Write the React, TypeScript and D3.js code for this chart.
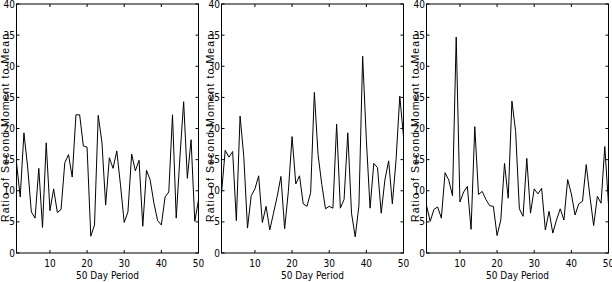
import React, { useEffect, useRef } from "react";
import * as d3 from "d3";

const days = d3.range(1, 51);

const series1 = [
  14.5, 9.0, 19.3, 13.8, 6.6, 5.6, 13.6, 4.1, 17.7, 6.8,
  10.3, 6.5, 7.0, 14.5, 15.8, 12.2, 22.2, 22.2, 17.2, 17.0,
  2.7, 4.5, 22.1, 17.8, 7.7, 15.3, 13.6, 16.4, 10.9, 4.9,
  6.6, 15.9, 13.2, 14.9, 4.3, 13.3, 11.7, 8.0, 5.2, 4.5,
  9.0, 9.8, 22.2, 5.6, 15.4, 24.3, 12.0, 18.2, 5.1, 8.5,
];

const series2 = [
  9.6, 16.5, 15.4, 16.3, 5.2, 22.0, 15.5, 4.0, 9.2, 10.3,
  12.4, 4.9, 7.5, 3.7, 6.4, 9.1, 12.3, 3.9, 9.9, 18.7,
  11.1, 12.4, 7.9, 7.5, 9.7, 25.8, 15.8, 11.0, 7.1, 7.5,
  7.2, 20.7, 7.2, 8.6, 19.3, 6.4, 2.6, 7.6, 31.6, 18.2,
  7.2, 14.4, 13.7, 6.4, 11.8, 14.8, 7.9, 15.0, 25.2, 18.7,
];

const series3 = [
  7.6, 5.1, 7.0, 7.4, 5.6, 12.9, 11.7, 9.2, 34.7, 8.2,
  9.8, 10.7, 3.8, 20.3, 9.4, 9.9, 8.6, 7.6, 7.5, 2.8,
  5.3, 14.4, 8.8, 24.4, 19.5, 7.1, 5.9, 15.2, 6.4, 10.3,
  9.5, 10.4, 3.7, 6.7, 3.2, 5.3, 7.1, 5.3, 11.8, 9.5,
  6.1, 7.9, 8.3, 14.2, 9.1, 4.4, 9.1, 8.0, 17.1, 7.8,
];

const xTicks = [10, 20, 30, 40, 50];
const yTicks = [0, 5, 10, 15, 20, 25, 30, 35, 40];

const panelLefts = [16.5, 221.5, 426.5];
const allSeries = [series1, series2, series3];

const W = 612;
const H = 282;
const plotW = 182;
const top = 4;
const bottom = 253;
const tickFont = "'Liberation Sans Narrow', 'DejaVu Sans Condensed', sans-serif";
const labelFont = "'Liberation Sans', Arial, sans-serif";

const App = () => {
  const ref = useRef<SVGSVGElement>(null);

  useEffect(() => {
    const svg = d3.select(ref.current);
    svg.selectAll("*").remove();

    allSeries.forEach((values, k) => {
      const left = panelLefts[k];
      const x = d3.scaleLinear().domain([1, 50]).range([left, left + plotW]);
      const y = d3.scaleLinear().domain([0, 40]).range([bottom, top]);
      const g = svg.append("g");

      // box
      g.append("rect")
        .attr("x", left)
        .attr("y", top)
        .attr("width", plotW)
        .attr("height", bottom - top)
        .attr("fill", "none")
        .attr("stroke", "#000")
        .attr("stroke-width", 1);

      // inward ticks on all four sides
      const tl = 3;
      g.selectAll(".yt")
        .data(yTicks)
        .join("path")
        .attr("d", (d) => `M${left},${y(d)}h${tl}M${left + plotW},${y(d)}h${-tl}`)
        .attr("stroke", "#000");
      g.selectAll(".xt")
        .data(xTicks)
        .join("path")
        .attr("d", (d) => `M${x(d)},${bottom}v${-tl}M${x(d)},${top}v${tl}`)
        .attr("stroke", "#000");

      // tick labels
      g.selectAll(".yl")
        .data(yTicks)
        .join("text")
        .attr("x", left - 1.5)
        .attr("y", (d) => y(d) + 3.5)
        .attr("text-anchor", "end")
        .attr("font-family", tickFont)
        .attr("font-size", 10)
        .text((d) => d);
      g.selectAll(".xl")
        .data(xTicks)
        .join("text")
        .attr("x", (d) => x(d))
        .attr("y", 267)
        .attr("text-anchor", "middle")
        .attr("font-family", tickFont)
        .attr("font-size", 10)
        .text((d) => d);

      g.append("text")
        .attr("x", left + plotW / 2)
        .attr("y", 279)
        .attr("text-anchor", "middle")
        .attr("font-family", tickFont)
        .attr("font-size", 10)
        .text("50 Day Period");

      g.append("text")
        .attr("transform", `translate(${left - 8},128) rotate(-90)`)
        .attr("text-anchor", "middle")
        .attr("font-family", labelFont)
        .attr("font-size", 10.5)
        .attr("textLength", 188)
        .attr("lengthAdjust", "spacing")
        .text("Ratio of Second Moment to Mean");

      const line = d3
        .line<number>()
        .x((_, i) => x(days[i]))
        .y((d) => y(d));

      g.append("path")
        .datum(values)
        .attr("d", line)
        .attr("fill", "none")
        .attr("stroke", "#000")
        .attr("stroke-width", 1);
    });
  }, []);

  return (
    <svg
      ref={ref}
      width={W}
      height={H}
      style={{ position: "absolute", left: 0, top: 0, background: "#fff" }}
    />
  );
};

export default App;
